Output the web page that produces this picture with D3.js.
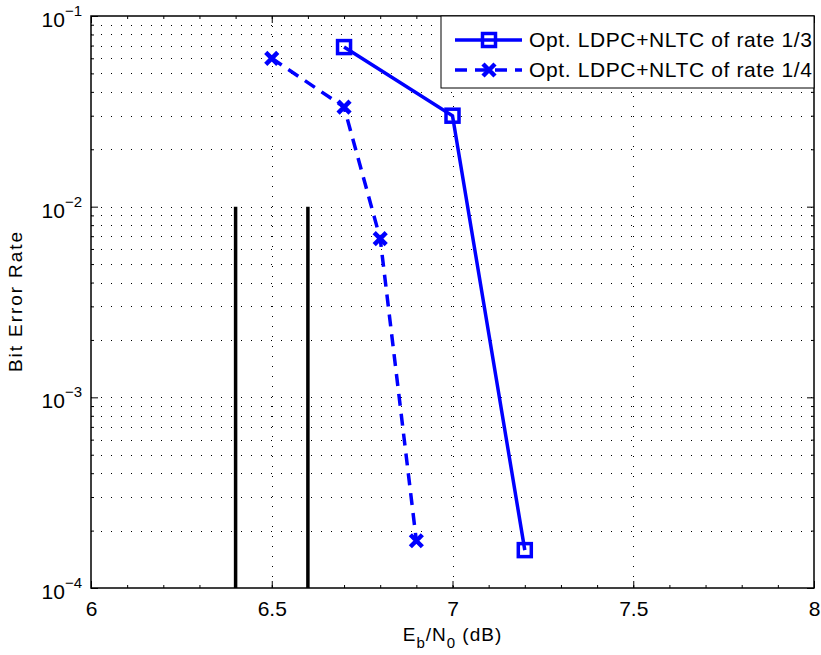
<!DOCTYPE html>
<html>
<head>
<meta charset="utf-8">
<script src="https://cdn.jsdelivr.net/npm/d3@7"></script>
<style>
  body { margin: 0; background: #fff; }
  text { font-family: "Liberation Sans", Arial, sans-serif; }
</style>
</head>
<body>
<div id="chart"></div>
<script>
// data
const ebn0_13 = [6.7, 7.0, 7.2];
const ber_13 = [0.0687, 0.030, 1.58e-4];
const ebn0_14 = [6.5, 6.7, 6.8, 6.9];
const ber_14 = [0.060, 0.0333, 0.0068, 1.77e-4];
const limitX = [6.4, 6.6];          // vertical black reference lines
const limitY = [1e-2, 1e-4];
const xTicks = [6, 6.5, 7, 7.5, 8];
const yTicks = [1e-4, 1e-3, 1e-2, 1e-1];
const legendLabels = ["Opt. LDPC+NLTC of rate 1/3", "Opt. LDPC+NLTC of rate 1/4"];

const W = 821, H = 655;
const margin = {top: 16, right: 7, bottom: 67, left: 91};
const width = W - margin.left - margin.right,
      height = H - margin.top - margin.bottom;

const svg = d3.select("#chart").append("svg")
  .attr("width", W).attr("height", H)
  .append("g")
  .attr("transform", "translate(" + margin.left + "," + margin.top + ")");

const x = d3.scaleLinear().domain([6, 8]).range([0, width]);
const y = d3.scaleLog().domain([1e-4, 1e-1]).range([height, 0]);

// minor log positions
const yMinor = [];
[1e-4, 1e-3, 1e-2].forEach(function(d) {
  for (let k = 2; k <= 9; k++) yMinor.push(d * k);
});
const xMinor = d3.range(6, 8.0001, 0.1);

// grid (dotted)
const grid = svg.append("g").attr("stroke", "#000").attr("stroke-width", 1)
  .attr("stroke-dasharray", "1,9");
grid.selectAll(".gh").data(yMinor.concat([1e-3, 1e-2])).enter().append("line")
  .attr("x1", 0).attr("x2", width)
  .attr("y1", d => Math.round(y(d)) + 0.5).attr("y2", d => Math.round(y(d)) + 0.5);
grid.selectAll(".gv").data([6.5, 7, 7.5]).enter().append("line")
  .attr("y1", 0).attr("y2", height)
  .attr("x1", d => Math.round(x(d)) + 0.5).attr("x2", d => Math.round(x(d)) + 0.5);

// black reference lines
svg.selectAll(".lim").data(limitX).enter().append("line")
  .attr("x1", d => x(d)).attr("x2", d => x(d))
  .attr("y1", y(limitY[0])).attr("y2", y(limitY[1]))
  .attr("stroke", "#000").attr("stroke-width", 3.5);

// axes
const gx = svg.append("g").attr("transform", "translate(0," + height + ")")
  .call(d3.axisBottom(x).tickValues(xTicks).tickSize(-7).tickPadding(13).tickFormat(d3.format("")));
const gxt = svg.append("g").call(d3.axisTop(x).tickValues(xTicks).tickSize(-7).tickFormat(""));
const gxm = svg.append("g").attr("transform", "translate(0," + height + ")")
  .call(d3.axisBottom(x).tickValues(xMinor).tickSize(-3).tickFormat(""));
const gxmt = svg.append("g").call(d3.axisTop(x).tickValues(xMinor).tickSize(-3).tickFormat(""));

const gy = svg.append("g")
  .call(d3.axisLeft(y).tickValues(yTicks).tickSize(-7).tickFormat(""));
const gyr = svg.append("g").attr("transform", "translate(" + width + ",0)")
  .call(d3.axisRight(y).tickValues(yTicks).tickSize(-7).tickFormat(""));
const gym = svg.append("g").call(d3.axisLeft(y).tickValues(yMinor).tickSize(-3).tickFormat(""));
const gymr = svg.append("g").attr("transform", "translate(" + width + ",0)")
  .call(d3.axisRight(y).tickValues(yMinor).tickSize(-3).tickFormat(""));

[gx, gxt, gxm, gxmt, gy, gyr, gym, gymr].forEach(function(g) {
  g.select(".domain").remove();
  g.selectAll("line").attr("stroke", "#000");
});
gx.selectAll("text").attr("font-size", 21).attr("fill", "#000")
  .attr("font-family", "Liberation Sans, Arial, sans-serif");

// y tick labels 10^n
yTicks.forEach(function(d) {
  const t = svg.append("text")
    .attr("x", -9).attr("y", y(d) + 11)
    .attr("text-anchor", "end").attr("font-size", 21);
  t.append("tspan").text("10");
  t.append("tspan").attr("dy", -11).attr("font-size", 15)
    .text("\u2212" + Math.round(-Math.log10(d)));
});

// frame
svg.append("rect").attr("width", width).attr("height", height)
  .attr("fill", "none").attr("stroke", "#000").attr("stroke-width", 1.5);

// series
const blue = "#0000ff";
const line = d3.line().x(d => x(d[0])).y(d => y(d[1]));
const s13 = ebn0_13.map((d, i) => [d, ber_13[i]]);
const s14 = ebn0_14.map((d, i) => [d, ber_14[i]]);

svg.append("path").datum(s13).attr("d", line)
  .attr("fill", "none").attr("stroke", blue).attr("stroke-width", 3.5);
svg.append("path").datum(s14).attr("d", line)
  .attr("fill", "none").attr("stroke", blue).attr("stroke-width", 3.5)
  .attr("stroke-dasharray", "12,8");

function square(g, cx, cy) {
  g.append("rect").attr("x", cx - 6.5).attr("y", cy - 6.5)
    .attr("width", 13).attr("height", 13)
    .attr("fill", "none").attr("stroke", blue).attr("stroke-width", 3.5);
}
function cross(g, cx, cy) {
  g.append("path")
    .attr("d", "M" + (cx - 6) + "," + (cy - 6) + "L" + (cx + 6) + "," + (cy + 6) +
               "M" + (cx - 6) + "," + (cy + 6) + "L" + (cx + 6) + "," + (cy - 6))
    .attr("stroke", blue).attr("stroke-width", 4.5).attr("fill", "none");
}
s13.forEach(d => square(svg, x(d[0]), y(d[1])));
s14.forEach(d => cross(svg, x(d[0]), y(d[1])));

// legend
const lg = svg.append("g").attr("transform", "translate(" + (441 - margin.left) + ",0)");
lg.append("rect").attr("width", width - (441 - margin.left)).attr("height", 72)
  .attr("fill", "#fff").attr("stroke", "#000").attr("stroke-width", 1);
[0, 1].forEach(function(i) {
  const yy = 24 + i * 30;
  lg.append("line").attr("x1", 14).attr("x2", 81).attr("y1", yy).attr("y2", yy)
    .attr("stroke", blue).attr("stroke-width", 3.5)
    .attr("stroke-dasharray", i === 1 ? "12,8" : null);
  if (i === 0) square(lg, 48, yy); else cross(lg, 48, yy);
  lg.append("text").attr("x", 88).attr("y", yy + 7).attr("font-size", 21)
    .attr("textLength", 283).attr("lengthAdjust", "spacing")
    .text(legendLabels[i]);
});

// axis labels
const xl = svg.append("text").attr("x", x(7)).attr("y", height + 53)
  .attr("text-anchor", "middle").attr("font-size", 19)
  .attr("letter-spacing", 1);
xl.append("tspan").text("E");
xl.append("tspan").attr("dy", 7).attr("font-size", 15).text("b");
xl.append("tspan").attr("dy", -7).text("/N");
xl.append("tspan").attr("dy", 7).attr("font-size", 15).text("0");
xl.append("tspan").attr("dy", -7).text(" (dB)");

svg.append("text")
  .attr("transform", "translate(" + (-69) + "," + (height / 2) + ") rotate(-90)")
  .attr("text-anchor", "middle").attr("font-size", 19)
  .attr("textLength", 140).attr("lengthAdjust", "spacing")
  .text("Bit Error Rate");
</script>
</body>
</html>
